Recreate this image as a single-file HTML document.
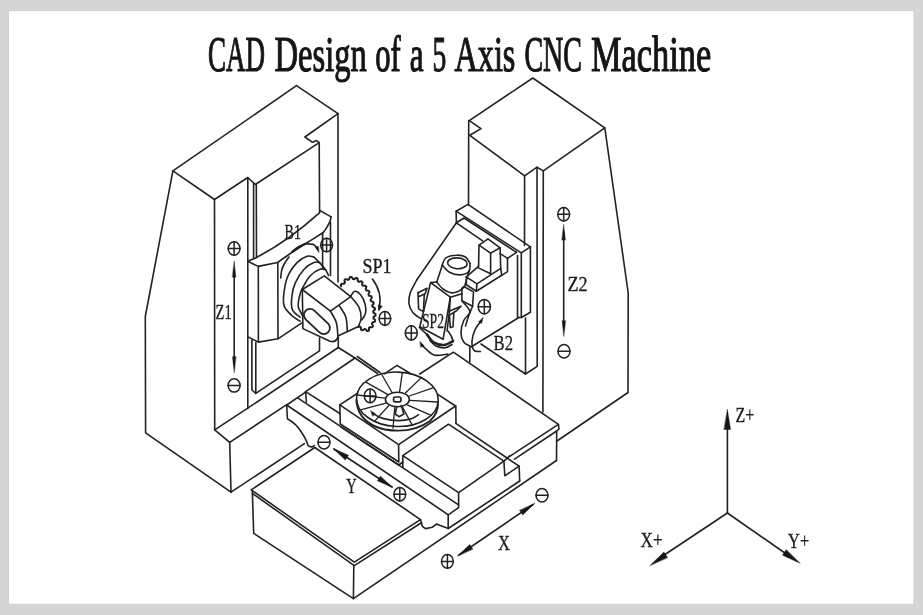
<!DOCTYPE html>
<html><head><meta charset="utf-8"><title>CAD Design of a 5 Axis CNC Machine</title>
<style>
html,body{margin:0;padding:0;background:#d5d5d5;}
body{width:923px;height:615px;overflow:hidden;position:relative;font-family:"Liberation Serif",serif;}
#paper{position:absolute;left:9px;top:10px;width:905px;height:594px;background:#fff;}
svg{position:absolute;left:0;top:0;filter:grayscale(1);}
svg path, svg ellipse, svg rect{fill:none;stroke:#222;stroke-width:1.6;stroke-linecap:round;stroke-linejoin:round;}
svg .sym{stroke-width:1.5;}
svg .ah{fill:#161616;stroke:#161616;stroke-width:0.4;}
svg text{font-family:"Liberation Serif",serif;fill:#1c1c1c;stroke:#1c1c1c;stroke-width:0.35;}
svg text.title{fill:#151515;stroke:#151515;stroke-width:1.2;stroke-linejoin:round;}
</style></head>
<body>

<svg width="923" height="615" viewBox="0 0 923 615">
<rect x="8.8" y="10.6" width="905.2" height="593.7" style="fill:#fff;stroke:#cecece;stroke-width:1"/>
<text x="207.9" y="71.3" font-size="51.2" text-anchor="start" font-weight="normal" class="title" textLength="57.0" lengthAdjust="spacingAndGlyphs">CAD</text>
<text x="274.5" y="71.3" font-size="51.2" text-anchor="start" font-weight="normal" class="title" textLength="92.3" lengthAdjust="spacingAndGlyphs">Design</text>
<text x="375.2" y="71.3" font-size="51.2" text-anchor="start" font-weight="normal" class="title" textLength="25.5" lengthAdjust="spacingAndGlyphs">of</text>
<text x="409.7" y="71.3" font-size="51.2" text-anchor="start" font-weight="normal" class="title" textLength="13.8" lengthAdjust="spacingAndGlyphs">a</text>
<text x="432.4" y="71.3" font-size="51.2" text-anchor="start" font-weight="normal" class="title" textLength="13.8" lengthAdjust="spacingAndGlyphs">5</text>
<text x="454.5" y="71.3" font-size="51.2" text-anchor="start" font-weight="normal" class="title" textLength="60.9" lengthAdjust="spacingAndGlyphs">Axis</text>
<text x="524.4" y="71.3" font-size="51.2" text-anchor="start" font-weight="normal" class="title" textLength="57.6" lengthAdjust="spacingAndGlyphs">CNC</text>
<text x="591.0" y="71.3" font-size="51.2" text-anchor="start" font-weight="normal" class="title" textLength="120.2" lengthAdjust="spacingAndGlyphs">Machine</text>
<g id="leftcol">
<path d="M296.5,85.7 L338.0,113.6 L304.9,137.0 L312.5,142.3 L316.6,140.6 L318.9,142.6"/>
<path d="M317.7,143.6 L255.3,184.5 L247.8,177.5 L214.5,199.5 L172.9,170.9 L296.5,85.7"/>
<path d="M172.9,170.9 L145.3,316.5 L145.6,432.8 L231.0,492.2 L229.7,442.4 L214.7,429.8 L214.5,199.5"/>
<path d="M338.0,113.6 L338.0,282.0"/>
<path d="M338.3,337.0 L338.3,347.5"/>
<path d="M214.7,429.8 L247.4,408.4 L338.3,347.5"/>
<path d="M229.7,442.4 L286.7,404.6"/>
<path d="M231.0,492.2 L304.4,443.6"/>
<path d="M247.8,177.5 L247.8,408.4"/>
<path d="M253.6,183.0 L253.6,258.8"/>
<path d="M256.3,184.5 L256.5,257.5"/>
<path d="M319.2,142.6 L319.6,212.0"/>
<path d="M251.9,340.0 L251.9,390.0 L255.8,393.4 L319.5,350.8 L319.5,338.0"/>
<path d="M255.8,342.5 L255.8,393.4"/>
</g>
<g id="b1car">
<path d="M256.6,257.4 Q287.5,241.5 319.7,212.6"/>
<path d="M247.8,261.2 L253.0,259.0 L256.6,257.4"/>
<path d="M247.8,261.2 L258.2,266.4 L277.7,262.5"/>
<path d="M277.8,262.4 C279.4,261.2 282.6,258.8 287.5,255.5 C292.4,252.2 301.0,246.6 307.0,242.8 C313.0,239.0 320.6,234.2 323.3,232.5"/>
<path d="M319.7,210.4 L331.1,216.9"/>
<path d="M331.1,216.9 Q330.5,223 323.3,232.5"/>
<path d="M258.3,266.4 L258.4,342.1"/>
<path d="M277.8,262.5 L278.0,338.8"/>
<path d="M248.0,336.9 L258.4,342.1 L278.0,338.8 L301.4,323.2"/>
<path d="M322.6,233.0 L322.6,268.0"/>
<path d="M330.5,222.0 L330.5,275.5"/>
</g>
<g id="b1rings">
<path d="M289.0,257.0 C288.2,258.1 285.7,261.3 284.5,263.5 C283.3,265.7 282.3,267.8 281.7,270.2 C281.1,272.6 280.9,276.7 280.7,278.0"/>
<path d="M313.9,257.0 C312.8,256.9 309.9,255.4 307.1,256.3 C304.3,257.2 300.6,258.9 297.3,262.4 C294.0,265.8 289.8,271.4 287.5,277.0 C285.2,282.6 284.1,291.0 283.6,296.0 C283.1,301.0 283.1,303.6 284.5,306.9 C285.9,310.2 289.7,313.6 292.3,316.0 C294.9,318.4 298.8,320.3 300.1,321.2"/>
<path d="M319.8,262.9 C318.8,262.8 316.5,261.3 313.9,262.4 C311.3,263.4 307.2,265.8 304.1,269.2 C301.0,272.6 297.3,278.4 295.3,282.9 C293.3,287.4 292.4,291.6 291.9,296.0 C291.4,300.4 290.9,305.9 292.3,309.5 C293.7,313.1 298.8,316.0 300.1,317.3"/>
<path d="M325.6,269.7 C324.6,269.6 322.4,268.1 319.8,269.2 C317.2,270.2 312.9,272.8 310.0,276.0 C307.1,279.2 304.0,285.2 302.2,288.7 C300.4,292.2 299.9,294.0 299.3,297.0 C298.7,300.0 297.7,303.7 298.3,306.9 C298.9,310.1 302.0,314.5 302.7,316.0"/>
<path d="M313.9,257.0 C314.9,258.0 317.9,260.8 319.8,262.9 C321.8,265.0 324.2,267.6 325.6,269.7 C327.1,271.8 328.0,274.5 328.5,275.5"/>
</g>
<g id="b1head">
<path d="M302.3,289.5 L324.3,275.9 L350.7,296.6 L330.4,311.2 L302.3,289.5"/>
<path d="M302.3,289.5 L302.9,328.6 L329.9,341.3 Q335,342.5 336.6,339.5"/>
<path d="M330.4,311.2 C331.4,313.1 335.0,318.2 336.2,322.3 C337.4,326.4 337.7,333.1 337.8,336.0 C337.9,338.9 336.8,338.9 336.6,339.5"/>
<g transform="translate(316.9,321.5) rotate(43)"><rect x="-15.5" y="-6.2" width="31" height="12.4" rx="6.2" ry="6.2" style="stroke-width:1.8"/></g>
<path d="M350.7,296.6 C352.1,298.4 357.3,303.8 359.0,307.4 C360.7,311.0 361.2,315.0 361.1,318.2 C361.0,321.4 358.8,324.9 358.4,326.3"/>
<path d="M358.4,326.5 L337.8,336.0"/>
<path d="M339.4,305.9 C340.5,307.8 344.5,312.9 345.8,317.0 C347.1,321.1 347.1,328.2 347.3,330.5"/>
<path d="M350.9,295.8 C351.6,295.1 353.2,291.4 354.9,291.3 C356.5,291.2 359.1,293.0 360.8,295.1 C362.5,297.2 364.3,301.2 365.1,304.2 C365.9,307.1 366.1,310.2 365.6,312.8 C365.1,315.4 362.5,318.8 361.9,320.0"/>
</g>
<path d="M341.1,286.2 L341.0,285.9 L340.9,285.6 L340.8,285.3 L340.8,285.0 L341.0,284.8 L341.1,284.5 L341.3,284.3 L341.4,284.1 L341.6,283.8 L342.1,283.7 L342.6,283.7 L343.2,283.8 L343.8,283.8 L344.2,283.6 L344.4,283.3 L344.6,283.1 L344.8,282.8 L345.0,282.5 L344.8,281.9 L344.7,281.3 L344.5,280.7 L344.4,280.2 L344.7,279.9 L344.9,279.6 L345.2,279.4 L345.4,279.2 L345.8,279.1 L346.2,279.2 L346.7,279.3 L347.1,279.5 L347.5,279.7 L347.9,279.9 L348.1,279.8 L348.3,279.7 L348.5,279.6 L348.7,279.5 L348.9,279.4 L349.1,279.3 L349.2,278.9 L349.3,278.5 L349.5,278.1 L349.6,277.6 L349.8,277.3 L350.1,277.1 L350.3,277.0 L350.6,277.0 L350.9,277.0 L351.2,276.9 L351.4,276.9 L351.7,277.1 L352.0,277.5 L352.2,277.8 L352.5,278.2 L352.7,278.6 L352.9,279.0 L353.1,279.0 L353.3,279.0 L353.6,279.1 L353.8,279.1 L354.0,279.2 L354.2,279.2 L354.5,278.9 L354.9,278.7 L355.3,278.4 L355.7,278.1 L356.1,277.9 L356.4,277.9 L356.7,278.0 L356.9,278.2 L357.2,278.3 L357.5,278.5 L357.7,278.8 L357.7,279.3 L357.7,279.8 L357.7,280.3 L357.8,280.8 L357.9,281.1 L358.2,281.3 L358.4,281.5 L358.7,281.6 L358.9,281.8 L359.4,281.7 L359.9,281.6 L360.4,281.4 L361.0,281.3 L361.4,281.3 L361.7,281.5 L361.9,281.7 L362.1,282.0 L362.4,282.2 L362.5,282.6 L362.4,283.2 L362.2,283.7 L362.1,284.3 L362.1,284.8 L362.3,285.0 L362.5,285.3 L362.8,285.5 L363.0,285.8 L363.5,285.8 L364.1,285.8 L364.7,285.7 L365.3,285.7 L365.6,285.9 L365.9,286.2 L366.1,286.5 L366.3,286.8 L366.3,287.3 L366.1,287.9 L365.9,288.5 L365.6,289.1 L365.7,289.5 L365.9,289.8 L366.1,290.1 L366.3,290.4 L366.6,290.6 L367.3,290.6 L367.9,290.7 L368.5,290.7 L368.9,291.0 L369.1,291.3 L369.3,291.6 L369.4,292.0 L369.4,292.4 L369.1,293.0 L368.8,293.6 L368.5,294.1 L368.5,294.6 L368.6,294.9 L368.8,295.3 L368.9,295.6 L369.4,295.8 L370.1,296.0 L370.8,296.1 L371.4,296.3 L371.5,296.7 L371.7,297.1 L371.8,297.4 L371.8,297.8 L371.5,298.4 L371.1,299.0 L370.7,299.5 L370.6,300.0 L370.7,300.3 L370.8,300.7 L370.9,301.0 L371.3,301.3 L371.9,301.5 L372.5,301.7 L373.1,301.9 L373.4,302.3 L373.5,302.6 L373.6,303.0 L373.7,303.4 L373.5,303.8 L373.1,304.3 L372.6,304.8 L372.2,305.3 L372.2,305.7 L372.3,306.0 L372.4,306.4 L372.5,306.8 L372.9,307.1 L373.5,307.3 L374.1,307.6 L374.6,307.8 L374.8,308.2 L374.8,308.6 L374.9,308.9 L375.0,309.3 L374.8,309.7 L374.3,310.1 L373.8,310.5 L373.4,310.9 L373.2,311.3 L373.3,311.6 L373.3,312.0 L373.3,312.3 L373.4,312.6 L373.8,312.9 L374.3,313.2 L374.8,313.4 L375.2,313.7 L375.5,314.0 L375.5,314.3 L375.5,314.7 L375.5,315.0 L375.5,315.3 L375.4,315.6 L375.0,315.9 L374.6,316.2 L374.2,316.5 L373.8,316.7 L373.5,317.0 L373.5,317.3 L373.5,317.5 L373.5,317.8 L373.5,318.1 L373.4,318.3 L373.7,318.6 L374.1,318.9 L374.5,319.3 L374.8,319.6 L375.1,319.9 L375.2,320.2 L375.1,320.5 L375.1,320.8 L375.0,321.0 L374.9,321.3 L374.9,321.6 L374.5,321.8 L374.0,321.9 L373.6,322.1 L373.1,322.2 L372.7,322.3 L372.5,322.5 L372.4,322.7 L372.3,323.0 L372.1,323.2 L372.0,323.5 L372.0,323.8 L372.2,324.2 L372.5,324.6 L372.7,325.1 L372.9,325.5 L373.0,325.9 L372.9,326.1 L372.7,326.4 L372.6,326.6 L372.5,326.9 L372.3,327.1 L372.0,327.2 L371.6,327.2 L371.1,327.2 L370.7,327.2 L370.3,327.2 L369.9,327.1 L369.7,327.2 L369.6,327.4 L369.5,327.5 L369.3,327.6 L369.2,327.8 L369.1,327.9 L368.9,328.0 L368.9,328.2 L368.9,328.4 L368.9,328.7 L369.0,329.1 L369.0,329.4 L369.0,329.7 L369.0,330.0 L368.9,330.3 L368.9,330.5 L368.7,330.6 L368.5,330.7 L368.4,330.8 L368.2,330.9 L368.0,330.9 L367.8,331.0 L367.6,331.1 L367.4,331.1 L367.2,331.1 L367.0,330.9 L366.8,330.7 L366.6,330.5 L366.4,330.2 L366.2,329.9 L366.0,329.7 L365.9,329.4 L365.7,329.2 L365.6,329.2 L365.4,329.2 L365.2,329.1 L365.0,329.1 L364.8,329.0 L364.6,328.9 L364.2,329.2 L363.8,329.5 L363.3,329.8 L362.9,330.1 L362.4,330.2 L362.1,330.1 L361.8,329.9 L361.5,329.8 L361.2,329.7 L361.0,329.3 L361.0,328.8 L360.9,328.2 L360.8,327.7 L360.7,327.2 L360.5,327.0 L360.2,326.9 L360.0,326.8 L359.8,326.7 L359.5,326.6 L359.3,326.5 L359.0,326.6 L358.7,326.7 L358.5,326.9 L358.2,327.0" style="stroke-width:2.0"/>
<path d="M372.4,279.1 Q383,293 378.9,309"/>
<path d="M378.7,310.8 L378.4,305.0 L382.2,306.1 Z" class="ah"/>
<path d="M292.4,251.6 C293.4,250.8 296.4,248.3 298.5,247.0 C300.6,245.7 304.0,244.3 305.1,243.8" style="stroke-width:2.2"/>
<path d="M305.1,243.8 C306.6,244.0 311.8,243.8 313.9,244.8 C316.0,245.8 317.1,248.8 317.8,249.6"/>
<path d="M318.8,252.4 L315.3,247.3 L318.3,246.2 Z" class="ah"/>
<g id="rightcol">
<path d="M469.3,120.6 L532.8,78.0 L604.8,127.8 L543.3,170.9 L537.0,167.2 L524.6,175.9 L469.8,135.3 L481.0,128.6 L469.3,120.6"/>
<path d="M468.7,120.6 L468.5,205.0"/>
<path d="M524.6,175.9 L524.5,245.5"/>
<path d="M537.0,167.2 L537.2,366.3 L525.5,374.0 L525.5,318.0"/>
<path d="M543.3,170.9 L542.9,412.0"/>
<path d="M604.8,127.8 L628.2,293.0 L628.0,392.5 L557.0,441.0"/>
<path d="M481.0,344.0 L525.5,374.0"/>
</g>
<g id="b2car">
<path d="M456.1,211.2 L468.0,204.4 L530.4,246.9 L521.3,252.9 L456.1,211.2"/>
<path d="M456.1,211.2 L456.4,222.8 L482.6,240.8"/>
<path d="M456.4,222.8 L464.0,218.0 L516.5,252.3"/>
<path d="M530.4,246.9 L530.4,312.2 L521.3,317.5 L521.3,252.9"/>
<path d="M517.5,255.5 L517.5,317.5 L521.3,317.5"/>
<path d="M456.4,222.8 L416.7,280"/>
<path d="M416.7,280.0 C415.6,282.2 411.5,289.1 410.2,293.0 C408.9,296.9 408.5,300.1 408.9,303.4 C409.3,306.6 410.9,310.0 412.8,312.5 C414.7,315.0 419.2,317.5 420.5,318.5"/>
<path d="M471.0,347.0 L518.9,317.5"/>
<path d="M479.0,245.2 L488.0,238.9 L500.1,247.8 L490.6,253.1 L479.0,245.2"/>
<path d="M479.0,245.2 L478.6,266.0"/>
<path d="M490.6,253.1 L490.6,273.7"/>
<path d="M500.1,247.8 L500.7,268.4 L501.7,275.3"/>
<path d="M500.3,253.7 L507.5,258.4 L516.5,252.3"/>
<path d="M507.5,258.4 L507.5,271.6 L501.7,275.3"/>
<path d="M466.3,276.9 L477.4,267.4 L478.6,266.0"/>
<path d="M477.4,267.4 L490.6,273.7"/>
<path d="M466.3,276.9 L476.9,283.8 L500.7,268.4"/>
<path d="M466.3,276.9 L466.3,284.8 L476.4,291.2 L476.9,283.8"/>
<path d="M476.4,291.2 L501.7,275.3"/>
<ellipse cx="457.4" cy="263.3" rx="9.8" ry="5.4" transform="rotate(4 457.4 263.3)"/>
<path d="M442.2,265.0 C442.8,263.8 443.4,259.5 445.8,257.9 C448.2,256.3 453.2,255.3 456.5,255.2 C459.8,255.0 463.3,255.7 465.5,257.0 C467.7,258.4 469.2,262.2 469.9,263.3"/>
<path d="M442.2,265.0 C443.4,266.2 446.4,270.6 449.4,272.2 C452.4,273.8 456.8,275.0 460.1,274.9 C463.4,274.8 467.4,273.2 469.0,271.3 C470.6,269.4 469.8,264.6 469.9,263.3"/>
<path d="M442.2,265.5 L436.8,282.0"/>
<path d="M469.2,270.5 L464.6,286.5"/>
<path d="M436.8,282.0 C437.8,283.2 440.6,287.2 443.0,289.0 C445.4,290.8 448.6,292.4 451.1,292.8 C453.6,293.2 455.9,292.4 458.0,291.5 C460.1,290.6 462.8,288.1 463.7,287.4"/>
<path d="M436.8,282.0 L430.6,282.6 L450.3,297.2 L461.9,293.7"/>
<path d="M430.6,282.6 L419.8,326.8 L443.1,339.3 L450.3,297.2"/>
<path d="M450.3,297.2 L449.4,312.0 L447.0,331.0"/>
<path d="M418.0,292.8 L427.0,288.3 L425.2,293.7 L418.9,296.4"/>
<path d="M418.0,292.8 L418.6,308.9 L423.4,311.6 L424.3,294.6"/>
<path d="M461.9,288.3 L463.7,286.5 L473.5,291.9 L472.6,306.2 L461.9,300.8 L461.9,288.3"/>
<path d="M461.9,300.8 C463.2,302.6 469.6,308.3 469.9,311.6 C470.2,314.9 465.2,316.9 463.7,320.5 C462.2,324.1 461.0,329.4 461.0,333.0 C461.0,336.6 462.1,339.8 463.7,342.0 C465.3,344.2 469.4,345.8 470.5,346.5"/>
<path d="M472.6,306.2 C472.0,307.7 470.2,311.8 469.0,315.1 C467.8,318.4 466.1,324.1 465.5,325.9"/>
<path d="M448.5,311.6 L461.0,306.2 L456.5,310.7 L449.4,315.1"/>
<path d="M449.4,315.1 L450.3,327.6 L453.0,326.7 L453.8,313.4"/>
<path d="M427.1,334.6 C428.2,335.9 430.8,340.7 433.6,342.4 C436.4,344.1 440.8,345.2 444.0,345.0 C447.2,344.8 451.6,341.8 453.1,341.1" style="stroke-width:2.6"/>
<path d="M430.0,340.5 C431.0,341.4 433.5,344.8 436.0,346.0 C438.5,347.2 442.3,348.1 445.0,347.8 C447.7,347.6 450.8,345.1 452.0,344.5" style="stroke-width:1.6"/>
<path d="M419.3,327.5 L427.1,334.6"/>
<path d="M448,331 Q452,336 453.1,341.1"/>
</g>
<path d="M421.5,344.5 C422.2,345.2 423.6,347.1 425.8,348.9 C428.0,350.7 431.2,354.3 434.9,355.2 C438.6,356.1 445.7,354.3 447.9,354.1"/>
<path d="M420.0,341.6 L424.1,345.7 L420.8,347.3 Z" class="ah"/>
<path d="M481.5,320.5 C480.4,322.0 476.8,326.0 475.2,329.4 C473.6,332.8 472.2,337.6 472.0,341.1 C471.8,344.6 472.5,348.5 473.9,350.2 C475.3,351.9 479.3,351.3 480.4,351.5"/>
<path d="M483.2,317.6 L481.5,323.6 L478.7,321.9 Z" class="ah"/>
<g id="saddle">
<path d="M419.7,374.0 L453.4,352.2 L558.4,424.3 L559.0,428.8 L556.7,431.0 L556.5,460.5"/>
<path d="M469.8,347.5 L469.8,362.0"/>
<path d="M558.4,424.3 L509.7,456.4"/>
<path d="M556.7,431.0 L514.5,459.2"/>
</g>
<g id="table">
<path d="M357.9,393.0 L339.8,404.8 L398.6,444.7 L455.6,406.0 L438.2,394.6"/>
<path d="M384.4,373.8 L397.0,365.4 L410.4,373.5"/>
<path d="M339.8,404.8 L340.3,424.0 L398.8,462.0 L398.6,444.7"/>
<path d="M341.0,427.0 L398.8,465.0 L402.8,462.0"/>
<path d="M455.8,406.0 L456.0,423.5"/>
<ellipse cx="397.4" cy="399.3" rx="40.9" ry="27.2" transform="rotate(2 397.4 399.3)"/>
<path d="M356.4,400 L356.6,403 Q360,424 385,429.5 Q412,434 430,421 Q438.5,413 437.9,402.5" style="stroke-width:1.9"/>
<ellipse cx="397.4" cy="399.5" rx="12" ry="7.3"/>
<rect x="393.6" y="397" width="7.4" height="4.8" rx="1.8" style="stroke-width:1.7"/>
<path d="M391.9,392.2 L381.6,374.3" style="stroke-width:1.3"/>
<path d="M399.6,391.7 L402.3,372.6" style="stroke-width:1.3"/>
<path d="M405.6,392.8 L420.8,378.1" style="stroke-width:1.3"/>
<path d="M409.4,396.0 L432.8,387.9" style="stroke-width:1.3"/>
<path d="M409.9,400.4 L437.7,402.0" style="stroke-width:1.3"/>
<path d="M407.2,404.8 L430.6,415.1" style="stroke-width:1.3"/>
<path d="M402.3,406.9 L412.1,424.9" style="stroke-width:1.3"/>
<path d="M394.7,407.5 L393.0,428.2" style="stroke-width:1.3"/>
<path d="M388.7,405.8 L375.1,420.6" style="stroke-width:1.3"/>
<path d="M385.9,403.1 L361.4,409.7" style="stroke-width:1.3"/>
<path d="M385.4,398.2 L357.1,395.0" style="stroke-width:1.3"/>
<path d="M387.6,394.4 L366.3,382.4" style="stroke-width:1.3"/>
<path d="M396.8,406.5 L395.2,414 L399,416.7 L403.9,414 L401.2,405.5"/>
<path d="M373.5,413.8 C375.0,414.6 378.4,417.3 382.7,418.4 C386.9,419.5 394.1,420.6 399.0,420.6 C403.9,420.6 408.8,419.4 412.1,418.4 C415.4,417.4 417.5,415.2 418.6,414.6"/>
<path d="M370.8,410.6 L375.5,413.9 L372.7,416.1 Z" class="ah"/>
</g>
<ellipse cx="370.1" cy="395.9" rx="5.8" ry="6.9" class="sym"/>
<path d="M364.3,395.9 H375.90000000000003 M370.1,389.0 V402.79999999999995" class="sym"/>
<g id="slides">
<path d="M355.0,358.0 L305.6,391.6 L306.4,402.0"/>
<path d="M305.6,391.6 L339.8,413.5"/>
<path d="M357.2,356.5 L380.0,372.5"/>
<path d="M355.0,358.0 L377.5,373.5"/>
<path d="M338.3,347.5 L355.0,358.0"/>
<path d="M305.6,392.1 L286.7,405 L287.4,418.7 Q297,424 302,433 Q306.5,440 307.9,445.2 Q311,448.5 314.4,445.6"/>
<path d="M286.7,405.0 L448.2,514.8 L448.2,528.5 L519.7,481.0"/>
<path d="M298.0,398.2 L458.6,504.8"/>
<path d="M420.5,519.7 L422.5,526.5 L425.5,528.6 L432.2,527.3 L436.5,524.0 L448.2,528.5"/>
<path d="M458.6,492.7 L402.8,455.6 L448.5,424.2 L503.9,461.2 L458.6,492.7"/>
<path d="M402.8,455.6 L402.8,467.0"/>
<path d="M458.6,492.7 L458.6,507.7 L448.2,514.8"/>
<path d="M503.9,461.2 L504.8,475.8 L519.1,466.2 L519.7,481.0"/>
<path d="M455.8,423.3 L519.1,466.2"/>
<path d="M503.9,461.2 L509.7,455.9"/>
</g>
<g id="bed">
<path d="M251.2,489.8 L314.8,447.5 L420.5,519.6 L354.3,562.2 L251.2,489.8"/>
<path d="M252.5,493.5 L354.3,565.6 L421.0,523.0"/>
<path d="M252.3,491.0 L253.7,533.4 L353.4,598.7 L556.5,460.5"/>
<path d="M353.8,565.6 L353.4,598.7"/>
</g>
<ellipse cx="234.1" cy="248.5" rx="5.9" ry="6.8" class="sym"/>
<path d="M228.2,248.5 H240.0 M234.1,241.7 V255.3" class="sym"/>
<ellipse cx="234.1" cy="385.4" rx="6.0" ry="6.7" class="sym"/>
<path d="M228.1,385.4 H240.1" class="sym"/>
<path d="M234.2,270.0 L234.2,364.0"/>
<path d="M234.2,261.2 L235.9,277.2 L232.5,277.2 Z" class="ah"/>
<path d="M234.2,372.7 L232.5,356.7 L235.9,356.7 Z" class="ah"/>
<text x="215.6" y="318.9" font-size="22" text-anchor="start" font-weight="normal" class="lbl" textLength="16.2" lengthAdjust="spacingAndGlyphs">Z1</text>
<ellipse cx="326.6" cy="245" rx="5.9" ry="6.8" class="sym"/>
<path d="M320.70000000000005,245 H332.5 M326.6,238.2 V251.8" class="sym"/>
<ellipse cx="384.9" cy="318.4" rx="5.8" ry="7" class="sym"/>
<path d="M379.09999999999997,318.4 H390.7 M384.9,311.4 V325.4" class="sym"/>
<text x="284.6" y="239" font-size="21.5" text-anchor="start" font-weight="normal" class="lbl" textLength="16.4" lengthAdjust="spacingAndGlyphs">B1</text>
<text x="362.6" y="273" font-size="22" text-anchor="start" font-weight="normal" class="lbl" textLength="29" lengthAdjust="spacingAndGlyphs">SP1</text>
<ellipse cx="563.7" cy="214.3" rx="5.9" ry="6.8" class="sym"/>
<path d="M557.8000000000001,214.3 H569.6 M563.7,207.5 V221.10000000000002" class="sym"/>
<ellipse cx="564" cy="351.2" rx="6.0" ry="6.7" class="sym"/>
<path d="M558.0,351.2 H570.0" class="sym"/>
<path d="M563.7,232.0 L563.7,328.0"/>
<path d="M563.7,224.6 L565.4,240.1 L562.0,240.1 Z" class="ah"/>
<path d="M563.8,336.2 L562.1,320.7 L565.5,320.7 Z" class="ah"/>
<text x="567.4" y="291" font-size="22" text-anchor="start" font-weight="normal" class="lbl" textLength="20.2" lengthAdjust="spacingAndGlyphs">Z2</text>
<ellipse cx="484.3" cy="306.7" rx="6.1" ry="7.2" class="sym"/>
<path d="M478.2,306.7 H490.40000000000003 M484.3,299.5 V313.9" class="sym"/>
<ellipse cx="411.3" cy="332.9" rx="6" ry="7.1" class="sym"/>
<path d="M405.3,332.9 H417.3 M411.3,325.79999999999995 V340.0" class="sym"/>
<text x="422" y="327.7" font-size="21" text-anchor="start" font-weight="normal" class="lbl" textLength="22" lengthAdjust="spacingAndGlyphs">SP2</text>
<text x="493.6" y="349.8" font-size="22" text-anchor="start" font-weight="normal" class="lbl" textLength="19.4" lengthAdjust="spacingAndGlyphs">B2</text>
<ellipse cx="324" cy="442.2" rx="6.0" ry="6.7" class="sym"/>
<path d="M318.0,442.2 H330.0" class="sym"/>
<ellipse cx="399.8" cy="494.3" rx="5.9" ry="6.8" class="sym"/>
<path d="M393.90000000000003,494.3 H405.7 M399.8,487.5 V501.1" class="sym"/>
<path d="M334.0,449.0 L392.0,487.0"/>
<path d="M333.2,448.5 L348.5,455.3 L345.4,459.9 Z" class="ah"/>
<path d="M392.6,487.6 L377.3,480.8 L380.4,476.2 Z" class="ah"/>
<text x="346.2" y="492.6" font-size="21" text-anchor="start" font-weight="normal" class="lbl" textLength="10.4" lengthAdjust="spacingAndGlyphs">Y</text>
<ellipse cx="447.4" cy="561.4" rx="5.9" ry="6.8" class="sym"/>
<path d="M441.5,561.4 H453.29999999999995 M447.4,554.6 V568.1999999999999" class="sym"/>
<ellipse cx="542" cy="495.3" rx="6.0" ry="6.7" class="sym"/>
<path d="M536.0,495.3 H548.0" class="sym"/>
<path d="M459.0,555.0 L533.0,504.5"/>
<path d="M457.6,556.0 L469.7,544.4 L472.8,549.0 Z" class="ah"/>
<path d="M534.8,503.4 L522.7,515.0 L519.6,510.4 Z" class="ah"/>
<text x="498" y="549.7" font-size="21" text-anchor="start" font-weight="normal" class="lbl" textLength="12" lengthAdjust="spacingAndGlyphs">X</text>
<path d="M727.4,513.0 L727.4,425.0"/>
<path d="M727.4,513.0 L662.0,556.5"/>
<path d="M727.4,513.0 L787.0,554.5"/>
<path d="M727.4,409.5 L730.6,429.5 L724.1,429.5 Z" class="ah"/>
<path d="M650.0,565.5 L663.9,552.1 L667.5,557.5 Z" class="ah"/>
<path d="M800.0,563.2 L782.5,555.2 L786.1,549.8 Z" class="ah"/>
<text x="735.6" y="421.5" font-size="20.5" text-anchor="start" font-weight="normal" class="lbl" textLength="18.8" lengthAdjust="spacingAndGlyphs">Z+</text>
<text x="640.6" y="546.8" font-size="22" text-anchor="start" font-weight="normal" class="lbl" textLength="22" lengthAdjust="spacingAndGlyphs">X+</text>
<text x="788.1" y="547.8" font-size="22" text-anchor="start" font-weight="normal" class="lbl" textLength="21" lengthAdjust="spacingAndGlyphs">Y+</text>
</svg>
</body></html>
